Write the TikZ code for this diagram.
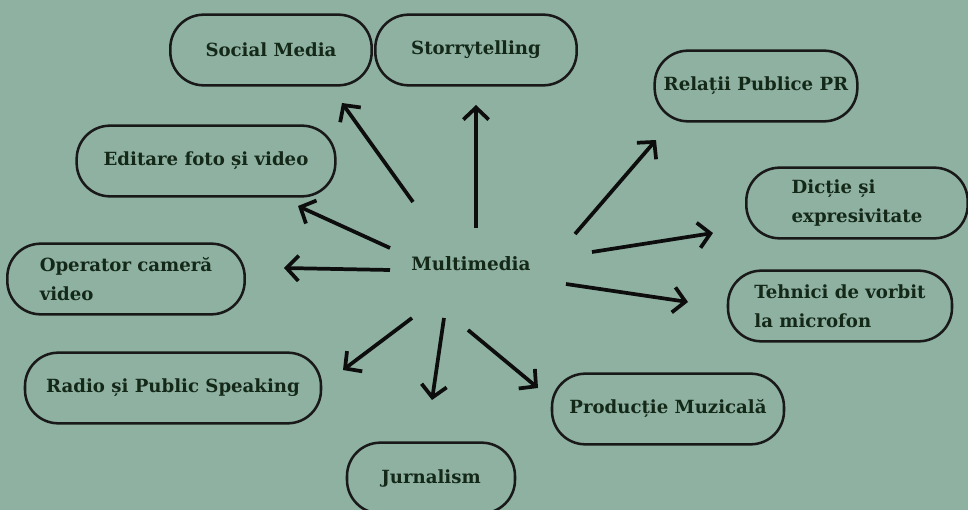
\documentclass[tikz,border=0pt]{standalone}
\usepackage{fontspec}
\setmainfont{DejaVu Serif}
\usetikzlibrary{%
  arrows.meta
}

\definecolor{board}{RGB}{142,177,162}
\definecolor{ink}{RGB}{20,40,24}

\tikzset{
  pill/.style={draw=black!90, line width=1.9pt, rounded corners=25pt,
    minimum height=53pt, text=ink, font=\bfseries\fontsize{13.6}{21.5}\selectfont,
    align=left},
  arr/.style={-{Straight Barb[length=9pt,width=19pt]}, line width=2.8pt,
    draw=black!95}
}

\begin{document}
\begin{tikzpicture}[x=0.75pt,y=-0.75pt]

  \fill[board] (0,0) rectangle (968,510);
  \useasboundingbox (0,0) rectangle (968,510);

  \node (mm) at (471,264) [text=ink, font=\bfseries\fontsize{13.8}{16}\selectfont] {Multimedia};

  \node[pill, minimum width=151pt] (sm) at (271,50) {Social Media};
  \node[pill, minimum width=151pt] (st) at (476,50) {Storrytelling};
  \node[pill, minimum width=152pt] (pr) at (756,86) {Relații Publice PR};
  \node[pill, minimum width=194pt] (ed) at (206,161) {Editare foto și video};
  \node[pill, minimum width=166pt] (di) at (857,203) {Dicție și\\expresivitate};
  \node[pill, minimum width=178pt] (op) at (126,279) {Operator cameră\\video};
  \node[pill, minimum width=168pt] (te) at (840,306) {Tehnici de vorbit\\la microfon};
  \node[pill, minimum width=222pt] (ra) at (173,388) {Radio și Public Speaking};
  \node[pill, minimum width=174pt] (pm) at (668,409) {Producție Muzicală};
  \node[pill, minimum width=126pt] (ju) at (431,478) {Jurnalism};

  % tails and tips of the arrows
  \coordinate (sm-tail) at (413,202);  \coordinate (sm-tip) at (342,103);
  \coordinate (st-tail) at (476,228);  \coordinate (st-tip) at (476,105);
  \coordinate (ed-tail) at (390,248);  \coordinate (ed-tip) at (298,206);
  \coordinate (op-tail) at (390,270);  \coordinate (op-tip) at (284,268);
  \coordinate (ra-tail) at (412,318);  \coordinate (ra-tip) at (343,370);
  \coordinate (ju-tail) at (444,318);  \coordinate (ju-tip) at (432,400);
  \coordinate (pm-tail) at (468,330);  \coordinate (pm-tip) at (538,388);
  \coordinate (pr-tail) at (575,234);  \coordinate (pr-tip) at (656,140);
  \coordinate (di-tail) at (592,252);  \coordinate (di-tip) at (713,233);
  \coordinate (te-tail) at (566,284);  \coordinate (te-tip) at (688,302);

  \foreach \n in {sm,st,ed,op,ra,ju,pm,pr,di,te}
    \draw[arr] (\n-tail) -- (\n-tip);

\end{tikzpicture}
\end{document}
